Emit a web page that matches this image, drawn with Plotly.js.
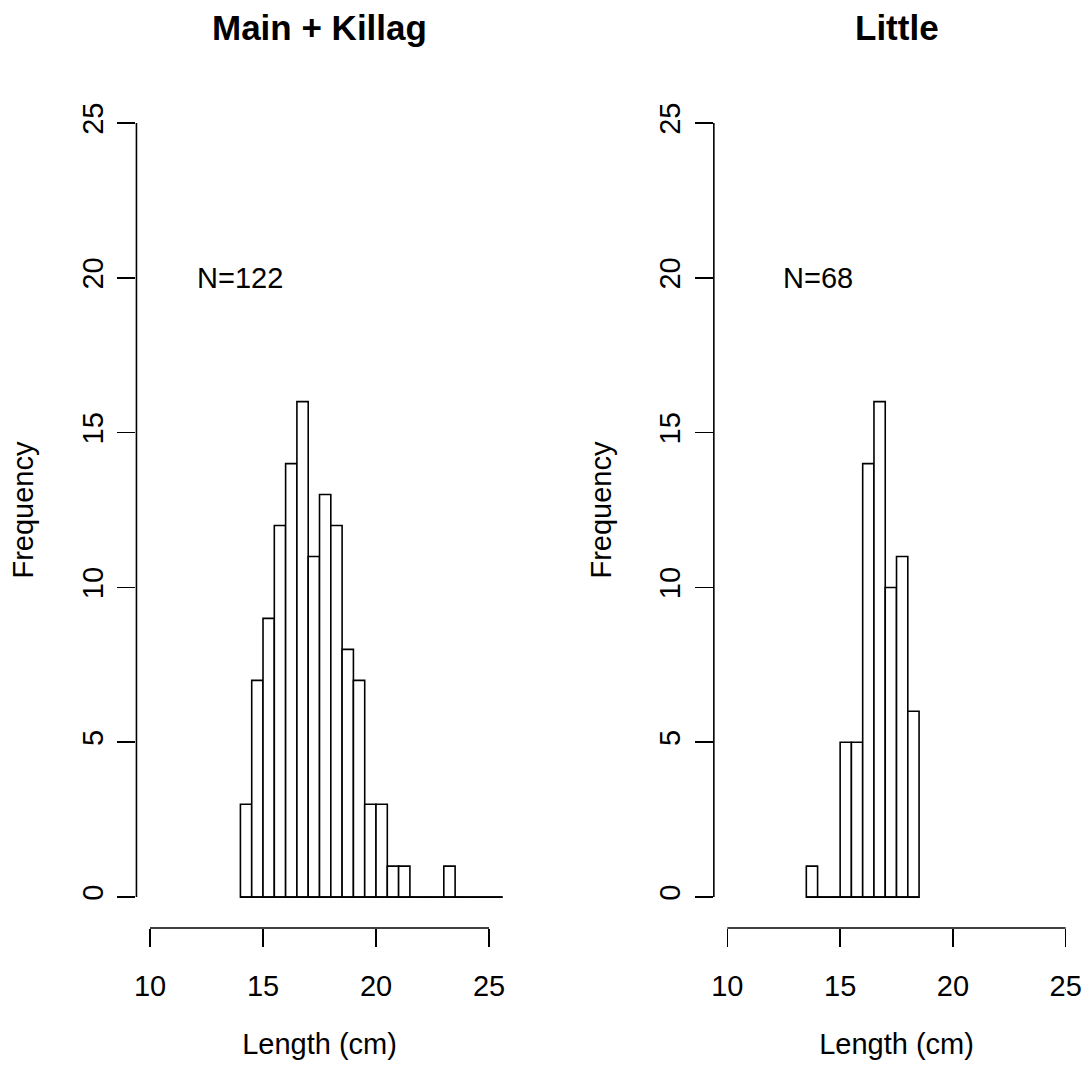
<!DOCTYPE html>
<html>
<head>
<meta charset="utf-8">
<script src="https://cdn.plot.ly/plotly-3.0.1.min.js"></script>
<style>html,body{margin:0;padding:0;background:#fff;}#chart{width:1089px;height:1074px;}</style>
</head>
<body>
<div id="chart"></div>
<script>
// ---- Data ----
const panelTitles = ["Main + Killag", "Little"];
const sampleLabels = ["N=122", "N=68"];
const mainKillagEdges = [14, 14.5, 15, 15.5, 16, 16.5, 17, 17.5, 18, 18.5, 19, 19.5, 20, 20.5, 21, 21.5, 22, 22.5, 23, 23.5, 24, 24.5, 25, 25.5, 26];
const mainKillagCounts = [3, 7, 9, 12, 14, 16, 11, 13, 12, 8, 7, 3, 3, 1, 1, 0, 0, 0, 1, 0, 0, 0, 0, 0];
const littleEdges = [13.5, 14, 14.5, 15, 15.5, 16, 16.5, 17, 17.5, 18, 18.5];
const littleCounts = [1, 0, 0, 5, 5, 14, 16, 10, 11, 6];
const xTickVals = [10, 15, 20, 25];
const yTickVals = [0, 5, 10, 15, 20, 25];
const xLabel = "Length (cm)";
const yLabel = "Frequency";

// ---- Styling ----
const FONT = "Liberation Sans, Arial, Helvetica, sans-serif";
const BASE = 29;
const LW = 1.6;

function histTraces(edges, counts, xa, ya) {
  const centers = [], widths = [];
  for (let i = 0; i < counts.length; i++) {
    centers.push((edges[i] + edges[i + 1]) / 2);
    widths.push(edges[i + 1] - edges[i]);
  }
  return [
    { type: "scatter", mode: "lines", x: [edges[0], edges[edges.length - 1]], y: [0, 0],
      xaxis: xa, yaxis: ya, line: { color: "#000", width: LW }, hoverinfo: "skip", showlegend: false },
    { type: "bar", x: centers, y: counts, width: widths, xaxis: xa, yaxis: ya,
      marker: { color: "#fff", line: { color: "#000", width: LW } }, showlegend: false }
  ];
}

const data = [
  ...histTraces(mainKillagEdges, mainKillagCounts, "x", "y"),
  ...histTraces(littleEdges, littleCounts, "x2", "y2")
];

const yDom = [0.1359, 0.9143];
function xAxis(dom) {
  return { domain: dom, range: [9.4, 25.6], tickvals: xTickVals, ticks: "outside", ticklen: 18,
    tickwidth: LW, tickcolor: "#000", showline: false, showgrid: false, zeroline: false,
    tickfont: { family: FONT, size: BASE, color: "#000" }, ticklabelstandoff: 14,
    title: { text: xLabel, font: { family: FONT, size: BASE, color: "#000" }, standoff: 32 } };
}
function yAxis(anchor) {
  return { domain: yDom, anchor: anchor, range: [-1, 26], tickvals: yTickVals, ticks: "outside", ticklen: 18,
    tickwidth: LW, tickcolor: "#000", showline: false, showgrid: false, zeroline: false, tickangle: -90,
    tickfont: { family: FONT, size: BASE, color: "#000" }, ticklabelstandoff: 3,
    title: { text: yLabel, font: { family: FONT, size: BASE, color: "#000" }, standoff: 34 } };
}

const shapes = [];
[["x", "y"], ["x2", "y2"]].forEach(([xa, ya]) => {
  shapes.push({ type: "line", xref: xa, yref: ya + " domain", x0: xTickVals[0], x1: xTickVals[xTickVals.length - 1], y0: 0, y1: 0, line: { color: "#000", width: LW } });
  shapes.push({ type: "line", xref: xa + " domain", yref: ya, x0: 0, x1: 0, y0: yTickVals[0], y1: yTickVals[yTickVals.length - 1], line: { color: "#000", width: LW } });
});

const annotations = [];
[["x", "y"], ["x2", "y2"]].forEach(([xa, ya], i) => {
  annotations.push({ text: "<b>" + panelTitles[i] + "</b>", xref: xa + " domain", yref: "paper", x: 0.5, y: 1 - 27 / 1074,
    xanchor: "center", yanchor: "middle", showarrow: false, font: { family: FONT, size: 35, color: "#000" } });
  annotations.push({ text: sampleLabels[i], xref: xa, yref: ya, x: 14, y: 20, xanchor: "center", yanchor: "middle",
    showarrow: false, font: { family: FONT, size: BASE, color: "#000" } });
});

const layout = {
  width: 1089, height: 1074, margin: { l: 0, r: 0, t: 0, b: 0 },
  paper_bgcolor: "#fff", plot_bgcolor: "#fff", bargap: 0, showlegend: false,
  xaxis: xAxis([0.1253, 0.4615]), yaxis: yAxis("x"),
  xaxis2: xAxis([0.6555, 0.991]), yaxis2: yAxis("x2"),
  shapes: shapes, annotations: annotations
};
layout.xaxis.anchor = "y"; layout.xaxis2.anchor = "y2";

Plotly.newPlot("chart", data, layout, { staticPlot: true, displayModeBar: false });
</script>
</body>
</html>
